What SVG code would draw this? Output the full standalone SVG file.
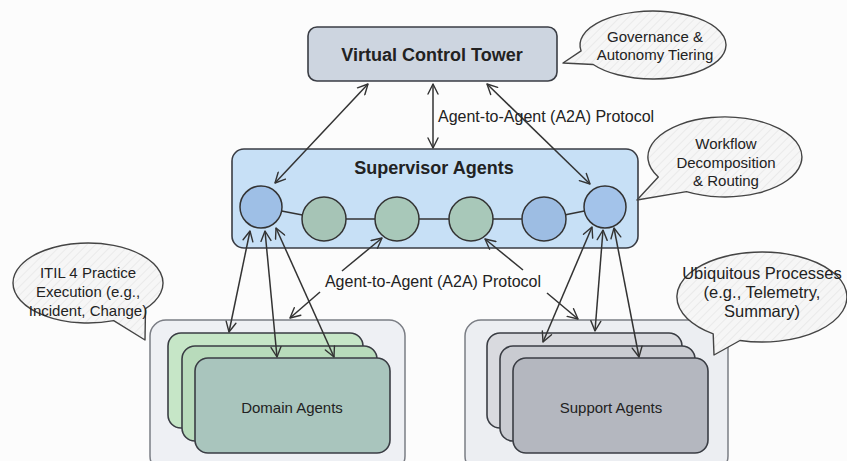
<svg xmlns="http://www.w3.org/2000/svg" width="847" height="461" viewBox="0 0 847 461">
  <defs>
    <marker id="arrow" viewBox="0 0 12 12" refX="11" refY="6" markerWidth="12" markerHeight="12" markerUnits="userSpaceOnUse" orient="auto-start-reverse">
      <path d="M1,1 L11,6 L1,11" fill="none" stroke="#333" stroke-width="1.4" stroke-linecap="round" stroke-linejoin="round"/>
    </marker>
    <pattern id="hatch" width="6" height="6" patternUnits="userSpaceOnUse" patternTransform="rotate(45)">
      <rect width="6" height="6" fill="#f6f6f6"/>
      <line x1="0" y1="0" x2="0" y2="6" stroke="#e2e2e2" stroke-width="1.2"/>
    </pattern>
  </defs>
  <style>
    text { font-family: "Comic Sans MS", "Liberation Sans", "DejaVu Sans", sans-serif; fill: #222; }
    .title { font-size: 18px; font-weight: bold; text-anchor: middle; }
    .label { font-size: 16px; }
    .bubble-text { font-size: 15px; text-anchor: middle; }
    .bubble-text-wide { font-size: 16.5px; text-anchor: middle; }
    .card-text { font-size: 15px; text-anchor: middle; }
    .box { stroke: #3a3d44; stroke-width: 1.6; }
    .node { stroke: #333; stroke-width: 1.5; }
    .bubble { fill: url(#hatch); stroke: #444; stroke-width: 1.4; stroke-linejoin: round; }
    .link { stroke: #333; stroke-width: 1.5; fill: none; }
    .arr { stroke: #333; stroke-width: 1.5; fill: none; marker-end: url(#arrow); }
    .arr2 { stroke: #333; stroke-width: 1.5; fill: none; marker-end: url(#arrow); marker-start: url(#arrow); }
    .group-outer { stroke: #7a7d84; stroke-width: 1.5; }
  </style>

  <rect width="847" height="461" fill="#fcfcfc"/>

  <!-- Domain agents group -->
  <g id="domain-agents">
    <rect class="group-outer" x="150" y="320" width="255" height="152" rx="16" fill="#eef0f4"/>
    <rect class="box" x="168" y="333" width="195" height="95" rx="13" fill="#c6e6c7"/>
    <rect class="box" x="182" y="346" width="195" height="95" rx="13" fill="#b8dbbb"/>
    <rect class="box" x="195" y="358" width="195" height="95" rx="13" fill="#a9c5bd"/>
    <text class="card-text" x="292" y="413">Domain Agents</text>
  </g>

  <!-- Support agents group -->
  <g id="support-agents">
    <rect class="group-outer" x="465" y="320" width="263" height="152" rx="16" fill="#eceef2"/>
    <rect class="box" x="487" y="333" width="195" height="95" rx="13" fill="#d9dadf"/>
    <rect class="box" x="500" y="346" width="195" height="95" rx="13" fill="#c9cbd1"/>
    <rect class="box" x="513" y="358" width="195" height="95" rx="13" fill="#b4b7bf"/>
    <text class="card-text" x="611" y="413">Support Agents</text>
  </g>

  <!-- Virtual control tower -->
  <g id="control-tower">
    <rect class="box" x="308" y="27" width="249" height="54" rx="9" fill="#cdd5e0"/>
    <text class="title" x="432" y="61">Virtual Control Tower</text>
  </g>

  <!-- Supervisor agents with their internal chain -->
  <g id="supervisor-agents">
    <rect class="box" x="232" y="149" width="406" height="99" rx="12" fill="#c7e0f6"/>
    <text class="title" x="434" y="174">Supervisor Agents</text>
    <g id="supervisor-chain">
      <line class="link" x1="281.6" y1="210.9" x2="302.4" y2="214.9"/>
      <line class="link" x1="346" y1="219" x2="375" y2="219"/>
      <line class="link" x1="419" y1="219" x2="449" y2="219"/>
      <line class="link" x1="493" y1="219" x2="522" y2="219"/>
      <line class="link" x1="565.6" y1="214.8" x2="584.4" y2="211"/>
    </g>
    <circle id="agent-1" class="node" cx="261" cy="207" r="21" fill="#9ebfe6"/>
    <circle id="agent-2" class="node" cx="324" cy="219" r="22" fill="#a6c4b6"/>
    <circle id="agent-3" class="node" cx="397" cy="219" r="22" fill="#a8c8b9"/>
    <circle id="agent-4" class="node" cx="471" cy="219" r="22" fill="#a8c8b9"/>
    <circle id="agent-5" class="node" cx="544" cy="219" r="22" fill="#9dbde3"/>
    <circle id="agent-6" class="node" cx="605" cy="207" r="21" fill="#a3c3ea"/>
  </g>

  <!-- Connectors -->
  <g id="connectors">
    <!-- tower to supervisors -->
    <line class="arr2" x1="368" y1="84" x2="275" y2="183"/>
    <line class="arr2" x1="433" y1="84" x2="433" y2="148"/>
    <line class="arr2" x1="487" y1="84" x2="590" y2="184"/>
    <!-- supervisor to domain agents -->
    <line class="arr2" x1="250" y1="231" x2="229" y2="332"/>
    <line class="arr2" x1="265" y1="231" x2="277" y2="357"/>
    <line class="arr2" x1="276" y1="228" x2="334" y2="357"/>
    <!-- supervisor to support agents -->
    <line class="arr2" x1="592" y1="227" x2="543" y2="342"/>
    <line class="arr2" x1="603" y1="230" x2="595" y2="331"/>
    <line class="arr2" x1="614" y1="228" x2="639" y2="357"/>
    <!-- protocol label pointers -->
    <line class="arr" x1="342" y1="271" x2="382" y2="238"/>
    <line class="arr" x1="320" y1="292" x2="290" y2="318"/>
    <line class="arr" x1="523" y1="270" x2="485" y2="239"/>
    <line class="arr" x1="547" y1="293" x2="578" y2="319"/>
  </g>

  <!-- Protocol labels -->
  <g id="protocol-labels">
    <text class="label" x="438" y="122">Agent-to-Agent (A2A) Protocol</text>
    <text class="label" x="433" y="287" text-anchor="middle">Agent-to-Agent (A2A) Protocol</text>
  </g>

  <!-- Callout bubbles -->
  <g id="note-governance">
    <path class="bubble" d="M581.1,50.9 L563,63 L593.2,64.5 A73,34 0 1 0 581.1,50.9 Z"/>
    <text class="bubble-text" x="655" y="42">Governance &amp;</text>
    <text class="bubble-text" x="655" y="60">Autonomy Tiering</text>
  </g>

  <g id="note-workflow">
    <path class="bubble" d="M658.3,177 L637,200 L686.5,191.6 A77,40 0 1 0 658.3,177 Z"/>
    <text class="bubble-text" x="726" y="149">Workflow</text>
    <text class="bubble-text" x="726" y="168">Decomposition</text>
    <text class="bubble-text" x="726" y="186">&amp; Routing</text>
  </g>

  <g id="note-itil">
    <path class="bubble" d="M145.5,308.7 L145,340 L113.7,320.6 A75,40 0 1 1 145.5,308.7 Z"/>
    <text class="bubble-text" x="88" y="278">ITIL 4 Practice</text>
    <text class="bubble-text" x="88" y="297">Execution (e.g.,</text>
    <text class="bubble-text" x="88" y="316">Incident, Change)</text>
  </g>

  <g id="note-ubiquitous">
    <path class="bubble" d="M740,340.5 L714,355 L713.2,333.9 A85,45 0 1 1 740,340.5 Z"/>
    <text class="bubble-text-wide" x="762" y="279">Ubiquitous Processes</text>
    <text class="bubble-text-wide" x="762" y="298">(e.g., Telemetry,</text>
    <text class="bubble-text-wide" x="762" y="317">Summary)</text>
  </g>
</svg>
